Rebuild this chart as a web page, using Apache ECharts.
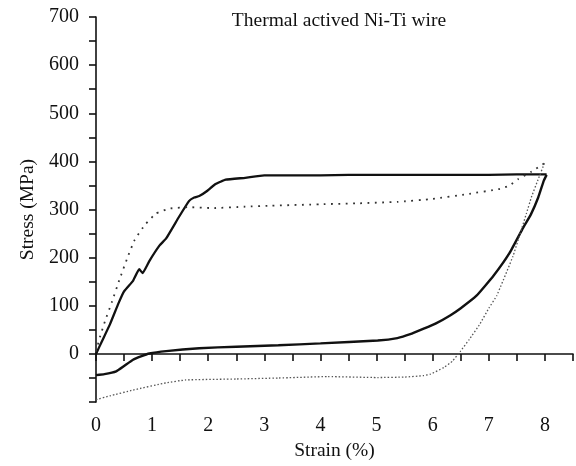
<!DOCTYPE html>
<html>
<head>
<meta charset="utf-8">
<script src="https://cdn.jsdelivr.net/npm/echarts@6/dist/echarts.min.js"></script>
<style>html,body{margin:0;padding:0;background:#fff}#c{width:576px;height:466px}</style>
</head>
<body>
<div id="c"></div>
<script>
// Strain (%) / Stress (MPa) values
var titleText = 'Thermal actived Ni-Ti wire';
var xName = 'Strain (%)';
var yName = 'Stress (MPa)';

var solidLoadX = [0, 0.1, 0.25, 0.4, 0.5, 0.66, 0.77, 0.83, 0.95, 1.13, 1.25, 1.48, 1.66, 1.75, 1.84, 1.96, 2.13, 2.31, 2.66, 3.0, 3.5, 4.0, 4.5, 5.0, 5.5, 6.0, 6.5, 7.0, 7.5, 8.03];
var solidLoadY = [0, 25, 62, 105, 130, 152, 176, 168, 193, 225, 240, 285, 318, 325, 328, 337, 353, 362, 366, 371, 371, 371, 372, 372, 372, 372, 372, 372, 373, 373];

var solidUnloadX = [8.03, 7.98, 7.88, 7.75, 7.61, 7.37, 7.08, 6.78, 6.5, 6.31, 6.05, 5.85, 5.6, 5.37, 5.02, 4.0, 3.25, 2.5, 1.84, 1.25, 0.95, 0.8, 0.66, 0.5, 0.36, 0.15, 0];
var solidUnloadY = [372, 360, 325, 290, 262, 210, 162, 121, 95, 80, 63, 53, 41, 33, 28, 22, 18, 15, 12, 6, 1, -5, -12, -25, -36, -42, -44];

var dotLoadX = [0, 0.07, 0.16, 0.28, 0.42, 0.57, 0.69, 0.87, 1.07, 1.31, 1.66, 2.07, 2.66, 3.13, 4.0, 4.7, 5.37, 6.0, 6.61, 7.2, 7.37, 7.52, 7.75, 7.99];
var dotLoadY = [5, 35, 68, 107, 155, 203, 237, 268, 292, 302, 305, 303, 306, 308, 311, 313, 316, 322, 332, 343, 350, 363, 378, 396];

var dotUnloadX = [7.99, 7.87, 7.76, 7.67, 7.43, 7.14, 7.0, 6.84, 6.65, 6.49, 6.35, 6.2, 5.96, 5.84, 5.5, 5.02, 4.13, 3.25, 2.5, 1.6, 1.25, 0.66, 0.25, 0];
var dotUnloadY = [396, 360, 326, 292, 203, 121, 95, 62, 30, 5, -15, -28, -42, -45, -48, -49, -47, -50, -52, -54, -60, -75, -87, -95];

var xTicks = [0, 1, 2, 3, 4, 5, 6, 7, 8];
var yTicks = [0, 100, 200, 300, 400, 500, 600, 700];

function zip(xs, ys) { return xs.map(function (x, i) { return [x, ys[i]]; }); }

var font = 'Liberation Serif';
var ink = '#111';
var chart = echarts.init(document.getElementById('c'), null, {renderer: 'canvas'});
chart.setOption({
  animation: false,
  backgroundColor: '#fff',
  title: {
    text: titleText, left: 334, textAlign: 'center', top: 6,
    textStyle: {fontFamily: font, fontSize: 19.5, fontWeight: 'normal', color: ink}
  },
  grid: {left: 96, right: 0, top: 17, bottom: 58},
  xAxis: {
    type: 'value', min: 0, max: 8.5, interval: 0.5,
    name: xName, nameLocation: 'middle', nameGap: 36,
    nameTextStyle: {fontFamily: font, fontSize: 19.5, color: ink},
    axisLine: {show: true, lineStyle: {color: ink, width: 1.6}},
    axisTick: {show: true, length: 7, lineStyle: {color: ink, width: 1.6}},
    splitLine: {show: false},
    axisLabel: {
      fontFamily: font, fontSize: 20, color: ink, margin: 14, interval: 0,
      formatter: function (v) { return xTicks.indexOf(v) >= 0 ? String(v) : ''; }
    }
  },
  yAxis: {
    type: 'value', min: -100, max: 700, interval: 50,
    name: yName, nameLocation: 'middle', nameGap: 55,
    nameTextStyle: {fontFamily: font, fontSize: 19.5, color: ink},
    axisLine: {show: true, lineStyle: {color: ink, width: 1.6}},
    axisTick: {show: true, length: 7, lineStyle: {color: ink, width: 1.6}},
    splitLine: {show: false},
    axisLabel: {
      fontFamily: font, fontSize: 20, color: ink, margin: 17, interval: 0,
      formatter: function (v) { return yTicks.indexOf(v) >= 0 ? String(v) : ''; }
    }
  },
  series: [
    {type: 'line', data: zip(solidLoadX, solidLoadY), showSymbol: false, smooth: 0.12,
     lineStyle: {color: '#111', width: 2.3}},
    {type: 'line', data: zip(solidUnloadX, solidUnloadY), showSymbol: false, smooth: 0.12,
     lineStyle: {color: '#111', width: 2.4}},
    {type: 'line', data: zip(dotLoadX, dotLoadY), showSymbol: false, smooth: 0.12,
     lineStyle: {color: '#333', width: 1.8, type: [1.8, 5.5]}},
    {type: 'line', data: zip(dotUnloadX, dotUnloadY), showSymbol: false, smooth: 0.12,
     lineStyle: {color: '#555', width: 1.3, type: [1.5, 2]}}
  ]
});
</script>
</body>
</html>
